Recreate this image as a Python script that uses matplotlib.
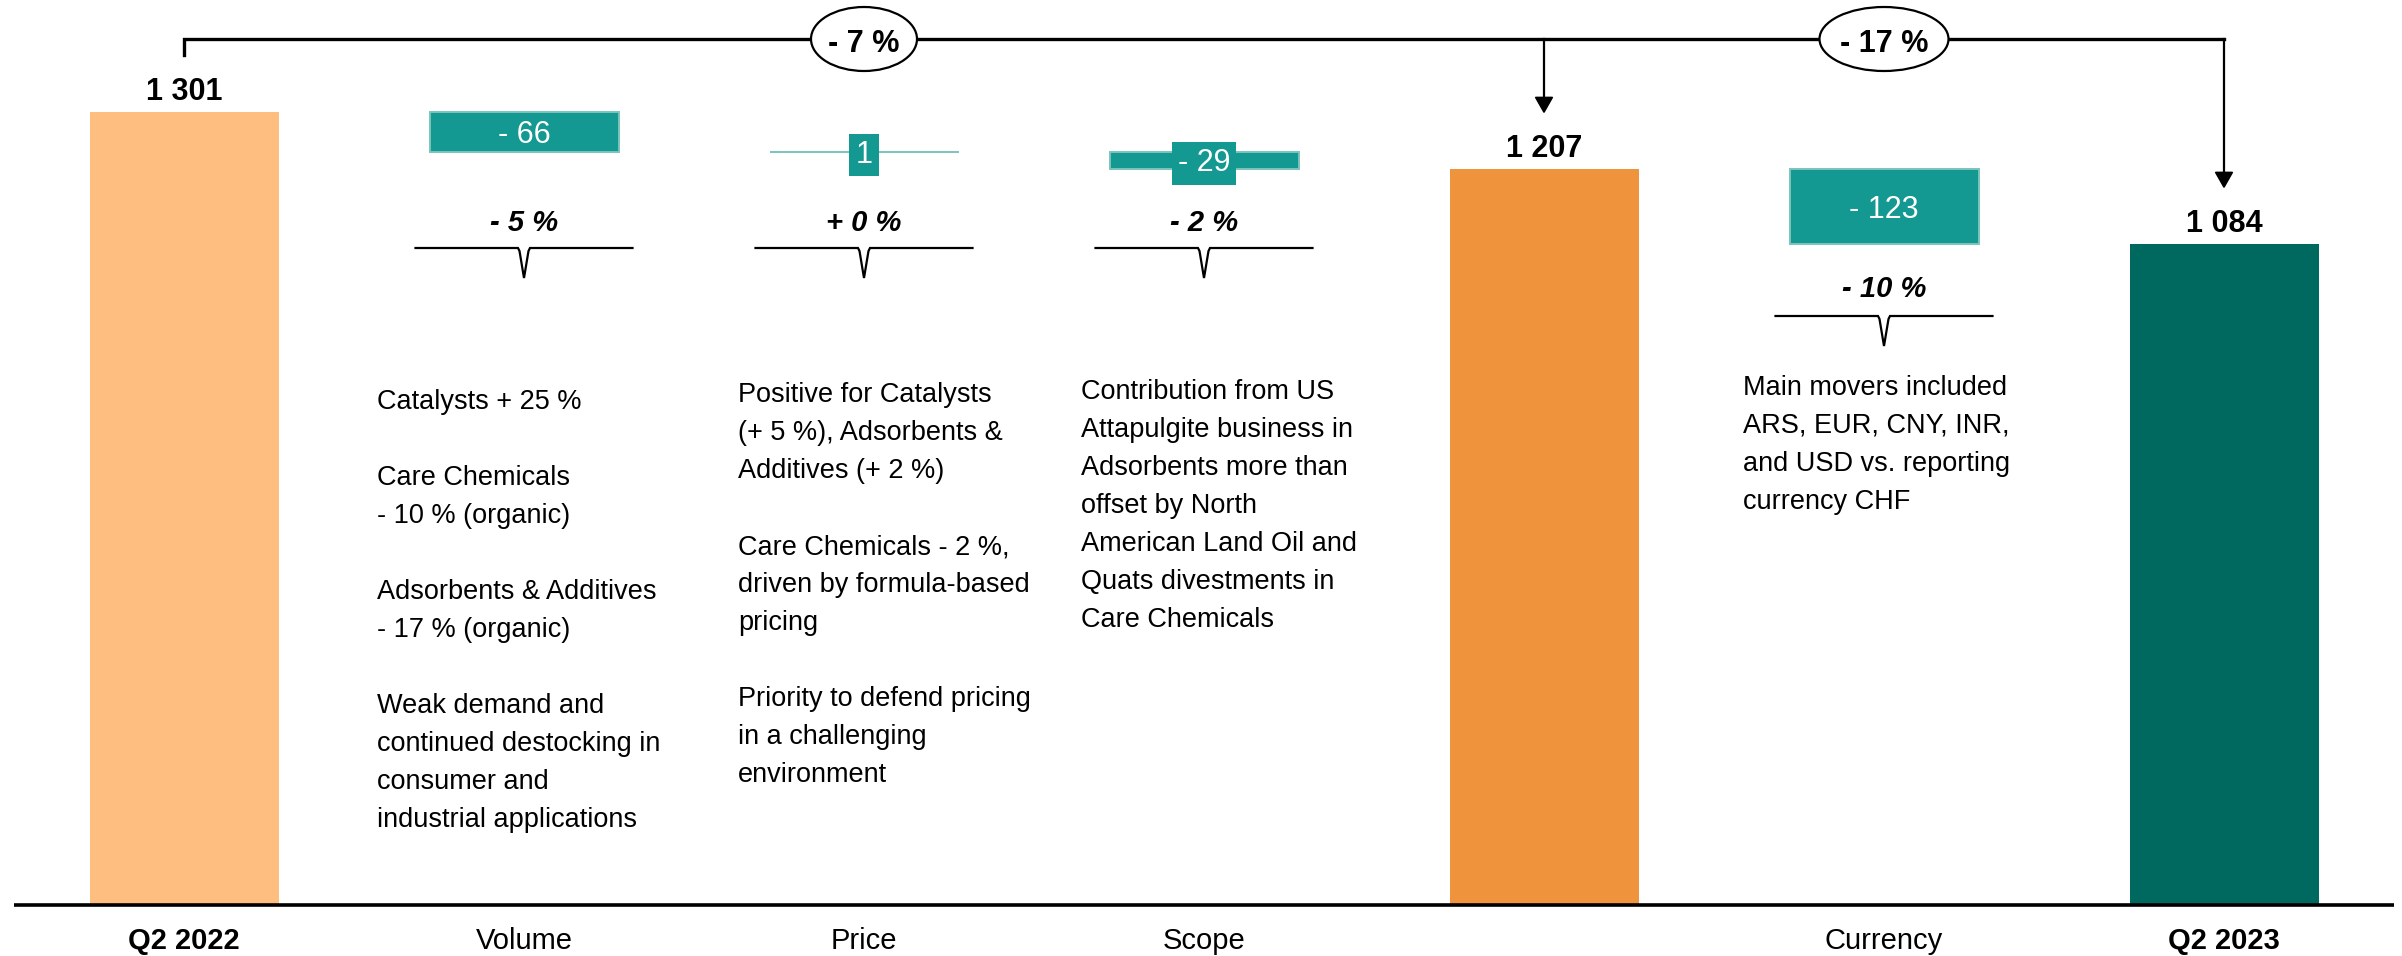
import matplotlib
matplotlib.use("Agg")
import matplotlib.pyplot as plt
from matplotlib.patches import Ellipse, Polygon

plt.rcParams["font.family"] = ["Liberation Sans", "DejaVu Sans"]

# ---- data ---------------------------------------------------------------
categories = ["Q2 2022", "Volume", "Price", "Scope", "", "Currency", "Q2 2023"]
kinds = ["total", "delta", "delta", "delta", "total", "delta", "total"]
values = [1301, -66, 1, -29, 1207, -123, 1084]
bold_labels = ["Q2 2022", "Q2 2023"]

notes_volume = ["Catalysts + 25 %", "", "Care Chemicals", "- 10 % (organic)", "",
                "Adsorbents & Additives", "- 17 % (organic)", "",
                "Weak demand and", "continued destocking in", "consumer and",
                "industrial applications"]
notes_price = ["Positive for Catalysts", "(+ 5 %), Adsorbents &", "Additives (+ 2 %)", "",
               "Care Chemicals - 2 %,", "driven by formula-based", "pricing", "",
               "Priority to defend pricing", "in a challenging", "environment"]
notes_scope = ["Contribution from US", "Attapulgite business in", "Adsorbents more than",
               "offset by North", "American Land Oil and", "Quats divestments in",
               "Care Chemicals"]
notes_currency = ["Main movers included", "ARS, EUR, CNY, INR,", "and USD vs. reporting",
                  "currency CHF"]

# ---- colours ------------------------------------------------------------
total_colors = {0: "#FDBE80", 4: "#F0933D", 6: "#00695F"}
delta_color = "#139991"
delta_edge = "#7CC4BE"

# ---- canvas geometry (pixels) ---------------------------------------------
W, H, DPI = 2402, 956, 100
X0_PX, STEP_PX = 184, 340          # centre of first bar, spacing between bars
BASE_PX, UNIT_PX = 905, 0.6095     # baseline row, pixels per value unit

fig = plt.figure(figsize=(W / DPI, H / DPI), dpi=DPI)
ax = fig.add_axes([0, 0, 1, 1])
ax.set_xlim((0 - X0_PX) / STEP_PX, (W - X0_PX) / STEP_PX)
ax.set_ylim((BASE_PX - H) / UNIT_PX, BASE_PX / UNIT_PX)
ax.axis("off")


def dx(px):
    return px / STEP_PX


def dy(px):
    return px / UNIT_PX


def row(py):
    """Data y for a pixel row measured from the top edge."""
    return (BASE_PX - py) / UNIT_PX


def fmt_thousands(v):
    return f"{v:,}".replace(",", " ")


# ---- bars -----------------------------------------------------------------
x = list(range(len(categories)))
bottoms, heights, tops = [], [], []
running = 0
for k, v in zip(kinds, values):
    if k == "total":
        bottoms.append(0)
        heights.append(v)
        running = v
    else:
        bottoms.append(running)
        heights.append(v)
        running += v
    tops.append(max(bottoms[-1], bottoms[-1] + heights[-1]))

bar_w = 189 / STEP_PX
for i in x:
    if kinds[i] == "total":
        ax.bar(i, heights[i], bottom=bottoms[i], width=bar_w,
               color=total_colors[i], linewidth=0, zorder=2)
    else:
        ax.bar(i, heights[i], bottom=bottoms[i], width=bar_w,
               color=delta_color, edgecolor=delta_edge, linewidth=1.4, zorder=2)

# baseline
ax.plot([-0.5, 6.5], [0, 0], color="black", lw=2.6, solid_capstyle="butt", zorder=3)

# ---- value labels -----------------------------------------------------------
for i in x:
    if kinds[i] == "total":
        ax.annotate(fmt_thousands(values[i]), (i, tops[i]), xytext=(0, 9),
                    textcoords="offset points", ha="center", va="baseline",
                    fontsize=22, fontweight="bold", zorder=5)
    else:
        v = values[i]
        txt = f"- {abs(v)}" if v < 0 else f"{v}"
        centre = bottoms[i] + heights[i] / 2
        # short bars get their own label patch so the text stays readable
        small = abs(v) * UNIT_PX < 36
        box = dict(boxstyle="square,pad=0.2", facecolor=delta_color,
                   edgecolor="none") if small else None
        ax.text(i, centre - dy(11), txt, ha="center", va="baseline",
                fontsize=22, color="white", zorder=6, bbox=box)

# ---- percentage labels with braces ------------------------------------------
pct_rows = {1: (231, 248), 2: (231, 248), 3: (231, 248), 5: (297, 316)}
brace_half = dx(217 / 2)
for i, (text_px, brace_px) in pct_rows.items():
    prev = bottoms[i]
    pct = values[i] / prev * 100
    sign = "+" if values[i] > 0 else "-"
    ax.text(i, row(text_px), f"{sign} {abs(round(pct))} %", ha="center",
            va="baseline", fontsize=21, fontweight="bold", style="italic", zorder=5)
    yb = row(brace_px)
    xs = [i - brace_half, i - dx(6), i - dx(4.5), i, i + dx(4.5), i + dx(6), i + brace_half]
    ys = [yb, yb, yb - dy(3), yb - dy(30), yb - dy(3), yb, yb]
    ax.plot(xs, ys, color="black", lw=1.6, solid_joinstyle="miter", zorder=4)

# ---- annotation text blocks --------------------------------------------------
blocks = [(1, notes_volume, 377, 409), (2, notes_price, 738, 402),
          (3, notes_scope, 1081, 399), (5, notes_currency, 1743, 395)]
for i, lines, left_px, first_px in blocks:
    for n, line in enumerate(lines):
        if line:
            ax.text((left_px - X0_PX) / STEP_PX, row(first_px + 38 * n), line,
                    ha="left", va="baseline", fontsize=19.5, zorder=5)

# ---- category labels -----------------------------------------------------------
for i, c in enumerate(categories):
    ax.text(i, row(949), c, ha="center", va="baseline", fontsize=21,
            fontweight="bold" if c in bold_labels else "normal", zorder=5)

# ---- overall change bracket ------------------------------------------------------
y_br = row(39)
first, mid, last = 0, 4, 6
ax.plot([first, first, last], [row(55), y_br, y_br], color="black", lw=2.4,
        solid_joinstyle="miter", zorder=4)


def down_arrow(i):
    tip = tops[i] + dy(57)
    ax.plot([i, i], [y_br, tip + dy(14)], color="black", lw=1.6, zorder=4)
    ax.add_patch(Polygon([[i - dx(8.5), tip + dy(15)], [i + dx(8.5), tip + dy(15)],
                          [i, tip]], closed=True, color="black", zorder=4))


down_arrow(mid)
down_arrow(last)


def change_bubble(xc, a, b, width_px):
    pct = (values[b] / values[a] - 1) * 100
    sign = "+" if pct > 0 else "-"
    ax.add_patch(Ellipse((xc, y_br), dx(width_px), dy(64), facecolor="white",
                         edgecolor="black", lw=1.6, zorder=5))
    ax.text(xc, row(52), f"{sign} {abs(round(pct))} %", ha="center", va="baseline",
            fontsize=22, fontweight="bold", zorder=6)


# change to the half-year subtotal, and total change over the year
change_bubble((first + mid) / 2, first, mid, 106)
change_bubble((mid + last) / 2, first, last, 129)

fig.savefig("out.png", dpi=DPI)
